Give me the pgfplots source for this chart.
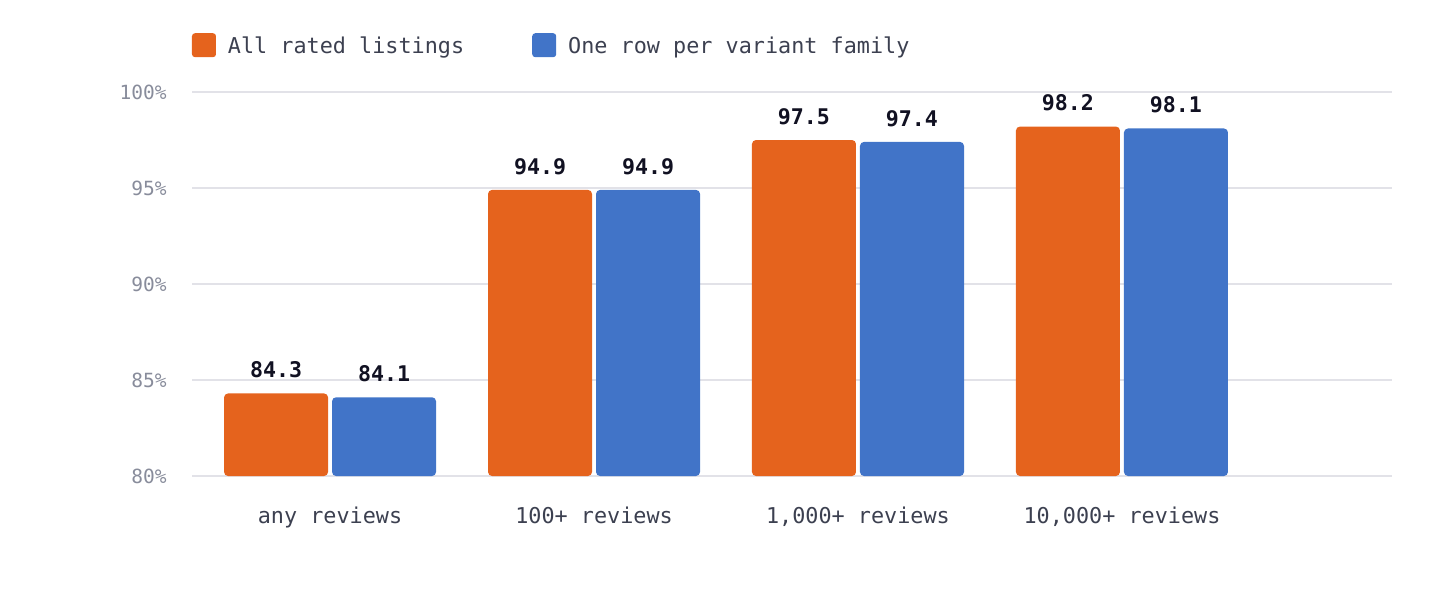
\documentclass[border=0pt]{standalone}
\usepackage{pgfplots}
\pgfplotsset{compat=1.18}
\usepackage{pgfplotstable}
\usepackage{fontspec}
\setmainfont{DejaVu Sans Mono}
\definecolor{orangec}{RGB}{229,99,29}
\definecolor{bluec}{RGB}{65,116,200}
\definecolor{gridc}{RGB}{226,226,232}
\definecolor{tickc}{RGB}{136,140,155}
\definecolor{labc}{RGB}{60,64,80}
\definecolor{valc}{RGB}{17,17,34}
\pgfplotstableread{
x all fam
0 84.3 84.1
1 94.9 94.9
2 97.5 97.4
3 98.2 98.1
}\datatab
\begin{document}
\begin{tikzpicture}
\begin{axis}[
  scale only axis,
  width=600pt, height=192pt,
  xmin=-0.523, xmax=4.023,
  ymin=0, ymax=20,
  ybar=2pt, bar width=52pt,
  axis line style={draw=none},
  major tick length=0pt,
  ytick={0,5,10,15,20},
  yticklabels={80\%,85\%,90\%,95\%,100\%},
  yticklabel style={font=\fontsize{9.76pt}{11pt}\selectfont, text=tickc, inner sep=0pt, anchor=east, xshift=-12.5pt},
  xtick={0,1,2,3},
  xticklabels={any reviews,100+ reviews,{1,000+ reviews},{10,000+ reviews}},
  xticklabel style={font=\fontsize{10.9pt}{12pt}\selectfont, text=labc, inner sep=0pt, anchor=north, yshift=-15.5pt},
  ymajorgrids,
  grid style={color=gridc, line width=1pt},
  nodes near coords={\pgfmathprintnumber[fixed,fixed zerofill,precision=1,assume math mode=true]{\pgfplotspointmeta}},
  nodes near coords style={font=\bfseries\fontsize{10.8pt}{12pt}\selectfont, text=valc, anchor=south, inner sep=0pt, yshift=7.5pt},
  point meta=explicit,
  legend columns=2,
  legend cell align=left,
  legend style={at={(rel axis cs:0,1)}, anchor=west, yshift=23.4pt, draw=none, fill=none, inner sep=0pt, outer sep=0pt,
    font=\fontsize{10.9pt}{12pt}\selectfont, text=labc,
    nodes={inner sep=0pt},
    /tikz/every odd column/.append style={column sep=6pt},
    /tikz/every even column/.append style={column sep=34pt}},
  legend image code/.code={\fill[#1, rounded corners=1.5pt] (0pt,-5.5pt) rectangle (12pt,6.5pt);},
]
\addplot[fill=orangec, draw=none, rounded corners=2pt] table[x=x, y expr=\thisrow{all}-80, meta=all] {\datatab};
\addlegendentry{All rated listings}
\addplot[fill=bluec, draw=none, rounded corners=2pt] table[x=x, y expr=\thisrow{fam}-80, meta=fam] {\datatab};
\addlegendentry{One row per variant family}
\end{axis}
\pgfresetboundingbox
\path[use as bounding box] (-96pt,-62pt) rectangle (624pt,238pt);
\end{tikzpicture}
\end{document}
